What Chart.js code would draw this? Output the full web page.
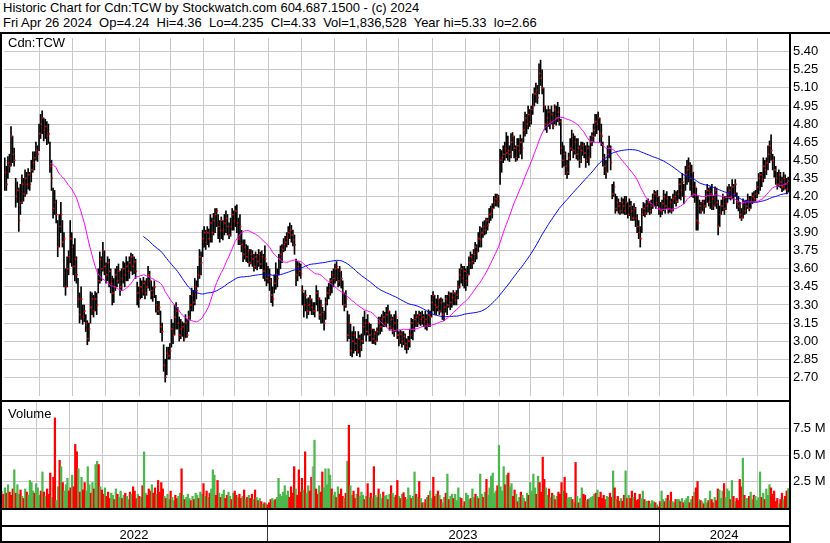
<!DOCTYPE html>
<html>
<head>
<meta charset="utf-8">
<script src="https://cdn.jsdelivr.net/npm/chart.js@4.4.0/dist/chart.umd.min.js"></script>
<style>
body { margin: 0; background: #fff; }
#wrap { position: relative; width: 830px; height: 543px; overflow: hidden; font-family: Arial, "Liberation Sans", sans-serif; font-size: 13px; color: #000; }
.hdr { position: absolute; left: 3px; white-space: pre; line-height: 15px; }
.bar { position: absolute; background: #000; }
.lbl { position: absolute; left: 8px; line-height: 15px; }
canvas { position: absolute; left: 0; }
</style>
</head>
<body>
<div id="wrap">
  <div class="hdr" style="top:0">Historic Chart for Cdn:TCW by Stockwatch.com 604.687.1500 - (c) 2024</div>
  <div class="hdr" style="top:15px">Fri Apr 26 2024  Op=4.24  Hi=4.36  Lo=4.235  Cl=4.33  Vol=1,836,528  Year hi=5.33  lo=2.66</div>
  <canvas id="priceChart" width="830" height="366" style="top:34px"></canvas>
  <canvas id="volumeChart" width="830" height="141" style="top:402px"></canvas>
  <div class="lbl" style="top:35px">Cdn:TCW</div>
  <div class="lbl" style="top:406px">Volume</div>
  <!-- khung -->
  <div class="bar" style="left:0;top:32px;width:830px;height:2px"></div>
  <div class="bar" style="left:0;top:32px;width:2px;height:511px"></div>
  <div class="bar" style="left:789px;top:32px;width:2px;height:511px"></div>
  <div class="bar" style="left:0;top:400px;width:791px;height:2px"></div>
  <div class="bar" style="left:0;top:508px;width:791px;height:2px"></div>
  <div class="bar" style="left:0;top:525px;width:791px;height:2px"></div>
  <div class="bar" style="left:0;top:541px;width:791px;height:2px"></div>
</div>
<script>
// Daily bars, Apr 26 2022 -> Apr 26 2024 (one value per trading day)
const highs = [
 4.52,4.45,4.53,4.55,4.78,4.70,4.60,4.35,4.32,4.27, 4.30,4.38,4.35,4.42,4.40,4.43,4.40,4.50,4.57,4.57,
 4.65,4.62,4.80,4.88,4.91,4.85,4.84,4.82,4.80,4.65, 4.50,4.27,4.25,4.17,4.00,4.05,4.15,4.00,3.90,3.60,
 3.70,3.75,4.00,3.90,3.80,3.85,3.70,3.52,3.40,3.45, 3.30,3.30,3.22,3.17,3.15,3.41,3.40,3.38,3.41,3.40,
 3.60,3.74,3.70,3.82,3.75,3.65,3.70,3.68,3.60,3.54, 3.52,3.60,3.62,3.64,3.58,3.60,3.66,3.65,3.70,3.66,
 3.70,3.73,3.72,3.70,3.68,3.49,3.45,3.52,3.50,3.53, 3.50,3.52,3.62,3.58,3.50,3.45,3.50,3.38,3.33,3.33,
 3.25,3.15,2.97,2.85,2.95,2.95,2.98,3.18,3.15,3.30, 3.32,3.28,3.20,3.18,3.16,3.15,3.22,3.18,3.25,3.38,
 3.44,3.42,3.52,3.50,3.62,3.76,3.74,3.92,3.95,3.92, 3.95,3.93,4.05,4.02,4.06,4.10,4.10,4.05,4.00,4.03,
 4.00,4.05,4.08,4.05,3.98,4.02,4.10,4.08,4.12,4.13, 4.02,4.05,3.92,3.84,3.84,3.80,3.79,3.76,3.76,3.75,
 3.72,3.74,3.72,3.76,3.74,3.75,3.72,3.79,3.65,3.62, 3.60,3.52,3.45,3.55,3.65,3.60,3.72,3.79,3.80,3.85,
 3.87,3.90,3.95,3.98,3.96,3.92,3.88,3.68,3.66,3.65, 3.64,3.46,3.40,3.42,3.35,3.36,3.38,3.35,3.32,3.32,
 3.46,3.42,3.36,3.34,3.28,3.25,3.36,3.45,3.48,3.52, 3.58,3.60,3.64,3.66,3.60,3.62,3.58,3.50,3.40,3.42,
 3.25,3.22,3.14,3.08,3.12,3.08,3.02,3.08,3.05,3.06, 3.20,3.25,3.18,3.22,3.15,3.14,3.10,3.10,3.08,3.11,
 3.20,3.20,3.22,3.25,3.24,3.28,3.30,3.25,3.22,3.20, 3.22,3.25,3.18,3.08,3.09,3.08,3.08,3.06,3.02,3.04,
 3.10,3.19,3.18,3.22,3.25,3.22,3.25,3.24,3.25,3.22, 3.25,3.22,3.26,3.25,3.38,3.41,3.38,3.35,3.38,3.35,
 3.36,3.35,3.32,3.38,3.38,3.41,3.40,3.40,3.42,3.40, 3.42,3.50,3.60,3.64,3.62,3.62,3.60,3.62,3.70,3.74,
 3.72,3.76,3.82,3.80,3.90,3.95,3.94,3.99,4.00,4.02, 4.02,4.10,4.12,4.14,4.20,4.22,4.22,4.21,4.59,4.58,
 4.62,4.65,4.73,4.70,4.62,4.72,4.73,4.70,4.62,4.68, 4.68,4.71,4.68,4.82,4.90,4.88,4.95,4.92,4.95,5.05,
 5.10,5.14,5.12,5.30,5.33,5.25,5.10,4.95,4.92,4.95, 4.92,4.95,4.90,4.96,4.95,4.98,4.94,4.84,4.65,4.62,
 4.57,4.50,4.56,4.68,4.75,4.72,4.70,4.68,4.68,4.62, 4.65,4.65,4.64,4.62,4.65,4.62,4.70,4.73,4.80,4.88,
 4.88,4.90,4.85,4.80,4.65,4.55,4.50,4.62,4.70,4.62, 4.30,4.32,4.22,4.20,4.18,4.15,4.19,4.18,4.20,4.20,
 4.15,4.18,4.16,4.12,4.14,4.11,4.05,4.00,3.95,4.10, 4.15,4.14,4.17,4.18,4.16,4.17,4.22,4.25,4.24,4.25,
 4.20,4.15,4.17,4.25,4.22,4.24,4.20,4.20,4.18,4.22, 4.25,4.24,4.25,4.35,4.35,4.39,4.30,4.45,4.50,4.52,
 4.48,4.46,4.40,4.32,4.27,4.20,4.17,4.15,4.17,4.17, 4.25,4.30,4.27,4.28,4.30,4.20,4.28,4.27,4.17,4.12,
 4.17,4.22,4.20,4.20,4.28,4.30,4.28,4.34,4.30,4.34, 4.23,4.20,4.15,4.10,4.18,4.16,4.17,4.22,4.20,4.20,
 4.23,4.24,4.25,4.32,4.39,4.40,4.40,4.52,4.50,4.52, 4.62,4.66,4.71,4.55,4.53,4.45,4.40,4.42,4.40,4.36,
 4.40,4.38,4.35,4.36
];
const lows = [
 4.25,4.25,4.35,4.40,4.45,4.48,4.45,4.11,4.15,3.91, 4.05,4.14,4.16,4.20,4.22,4.26,4.25,4.32,4.40,4.42,
 4.50,4.49,4.58,4.68,4.72,4.66,4.68,4.63,4.64,4.40, 4.25,4.02,4.05,3.98,3.70,3.78,3.90,3.78,3.45,3.38,
 3.45,3.55,3.65,3.62,3.55,3.50,3.48,3.28,3.15,3.18, 3.14,3.16,3.08,2.97,3.00,3.15,3.22,3.20,3.25,3.22,
 3.40,3.48,3.50,3.58,3.55,3.48,3.50,3.45,3.40,3.30, 3.32,3.42,3.45,3.48,3.38,3.42,3.48,3.45,3.50,3.50,
 3.52,3.58,3.55,3.56,3.52,3.30,3.28,3.35,3.36,3.38, 3.35,3.38,3.44,3.42,3.35,3.33,3.36,3.24,3.22,3.22,
 3.07,3.00,2.75,2.66,2.72,2.85,2.85,2.95,2.98,3.05, 3.10,3.10,3.00,3.02,3.04,3.00,3.03,3.03,3.08,3.18,
 3.25,3.25,3.30,3.35,3.45,3.52,3.55,3.70,3.78,3.76, 3.80,3.78,3.82,3.82,3.88,3.90,3.95,3.85,3.82,3.85,
 3.84,3.88,3.90,3.88,3.85,3.87,3.92,3.92,3.95,3.90, 3.80,3.80,3.74,3.66,3.68,3.66,3.65,3.62,3.64,3.62,
 3.58,3.60,3.59,3.62,3.60,3.60,3.52,3.50,3.46,3.48, 3.42,3.32,3.29,3.40,3.43,3.45,3.55,3.60,3.65,3.74,
 3.75,3.78,3.80,3.85,3.82,3.79,3.72,3.46,3.50,3.54, 3.52,3.30,3.20,3.25,3.19,3.22,3.25,3.22,3.22,3.20,
 3.30,3.25,3.18,3.15,3.15,3.09,3.18,3.30,3.35,3.38, 3.40,3.45,3.48,3.50,3.45,3.46,3.44,3.30,3.25,3.28,
 3.00,3.02,2.88,2.87,2.90,2.92,2.88,2.90,2.87,2.92, 2.98,3.05,3.00,3.05,3.00,3.00,2.98,2.98,2.97,3.00,
 3.05,3.06,3.08,3.12,3.12,3.12,3.15,3.09,3.10,3.06, 3.04,3.08,3.02,2.96,2.98,2.95,2.97,2.93,2.90,2.93,
 2.95,3.02,3.01,3.08,3.12,3.12,3.14,3.13,3.14,3.12, 3.10,3.09,3.12,3.12,3.20,3.25,3.22,3.22,3.25,3.22,
 3.24,3.18,3.17,3.24,3.22,3.28,3.26,3.28,3.30,3.30, 3.30,3.35,3.44,3.48,3.46,3.44,3.42,3.46,3.55,3.60,
 3.60,3.64,3.66,3.68,3.74,3.78,3.78,3.86,3.88,3.89, 3.92,3.98,4.00,4.02,4.10,4.12,4.12,4.11,4.30,4.40,
 4.48,4.50,4.52,4.50,4.49,4.52,4.58,4.52,4.49,4.50, 4.52,4.55,4.51,4.65,4.70,4.72,4.76,4.78,4.80,4.88,
 4.95,4.98,4.97,5.05,5.12,5.05,4.90,4.75,4.73,4.78, 4.76,4.80,4.76,4.80,4.79,4.82,4.79,4.55,4.44,4.45,
 4.38,4.35,4.38,4.50,4.58,4.52,4.55,4.51,4.50,4.44, 4.48,4.54,4.52,4.44,4.48,4.46,4.52,4.62,4.65,4.70,
 4.72,4.75,4.65,4.62,4.45,4.38,4.35,4.40,4.52,4.42, 4.18,4.20,4.06,4.08,4.06,4.05,4.06,4.06,4.05,4.05,
 4.02,4.04,4.00,4.00,4.00,3.95,3.90,3.85,3.78,3.90, 4.04,4.03,4.05,4.07,4.05,4.06,4.10,4.12,4.10,4.12,
 4.05,4.03,4.05,4.08,4.06,4.10,4.06,4.07,4.06,4.08, 4.14,4.12,4.15,4.18,4.17,4.20,4.14,4.25,4.30,4.32,
 4.25,4.20,4.19,4.15,3.92,3.92,4.06,4.06,4.08,4.06, 4.11,4.15,4.12,4.10,4.09,4.09,4.12,4.10,3.88,3.95,
 4.05,4.08,4.05,4.09,4.15,4.18,4.17,4.18,4.14,4.20, 4.10,4.08,4.02,4.00,4.02,4.05,4.06,4.10,4.08,4.10,
 4.14,4.15,4.16,4.19,4.22,4.25,4.28,4.32,4.35,4.38, 4.42,4.48,4.50,4.42,4.36,4.30,4.26,4.28,4.27,4.24,
 4.25,4.26,4.22,4.235
];
const closes = [
 4.40,4.30,4.48,4.45,4.70,4.55,4.50,4.20,4.25,4.00, 4.15,4.30,4.22,4.35,4.30,4.38,4.30,4.42,4.48,4.52,
 4.58,4.55,4.72,4.80,4.85,4.75,4.78,4.70,4.72,4.45, 4.35,4.10,4.15,4.05,3.78,3.95,4.05,3.82,3.85,3.45,
 3.60,3.70,3.85,3.78,3.62,3.68,3.55,3.35,3.22,3.35, 3.20,3.25,3.15,3.02,3.10,3.28,3.35,3.25,3.35,3.30,
 3.50,3.68,3.60,3.75,3.62,3.55,3.65,3.58,3.48,3.40, 3.45,3.55,3.50,3.58,3.45,3.52,3.60,3.55,3.62,3.58,
 3.65,3.70,3.62,3.66,3.58,3.40,3.35,3.45,3.42,3.48, 3.40,3.45,3.55,3.50,3.42,3.38,3.45,3.30,3.25,3.28,
 3.12,3.08,2.80,2.70,2.90,2.88,2.92,3.10,3.05,3.20, 3.25,3.15,3.05,3.10,3.12,3.02,3.15,3.05,3.20,3.30,
 3.38,3.32,3.45,3.42,3.55,3.70,3.65,3.85,3.90,3.82, 3.90,3.85,3.98,3.90,4.00,4.05,4.08,3.95,3.92,4.00,
 3.92,3.98,4.02,3.95,3.88,3.95,4.05,4.00,4.08,3.98, 3.85,3.95,3.80,3.72,3.78,3.70,3.75,3.65,3.72,3.68,
 3.62,3.70,3.66,3.72,3.64,3.70,3.58,3.68,3.52,3.55, 3.50,3.38,3.35,3.48,3.55,3.52,3.68,3.72,3.76,3.80,
 3.82,3.85,3.90,3.92,3.88,3.84,3.80,3.55,3.62,3.58, 3.56,3.42,3.30,3.38,3.25,3.30,3.35,3.28,3.25,3.25,
 3.40,3.35,3.22,3.30,3.24,3.15,3.32,3.40,3.42,3.50, 3.55,3.52,3.60,3.62,3.50,3.58,3.52,3.40,3.30,3.35,
 3.05,3.15,2.92,3.00,3.05,2.98,2.92,3.02,2.95,3.00, 3.12,3.15,3.08,3.15,3.05,3.10,3.02,3.06,3.00,3.08,
 3.15,3.12,3.18,3.20,3.15,3.22,3.25,3.12,3.18,3.10, 3.15,3.20,3.05,3.02,3.06,3.00,3.04,2.98,2.95,3.00,
 3.05,3.15,3.10,3.18,3.20,3.15,3.22,3.18,3.20,3.16, 3.18,3.14,3.22,3.20,3.32,3.38,3.30,3.28,3.35,3.25,
 3.32,3.22,3.28,3.35,3.30,3.38,3.32,3.36,3.40,3.34, 3.38,3.45,3.55,3.60,3.52,3.58,3.50,3.55,3.65,3.70,
 3.66,3.72,3.78,3.74,3.85,3.84,3.90,3.95,3.92,4.00, 3.96,4.05,4.06,4.10,4.15,4.18,4.20,4.16,4.50,4.52,
 4.55,4.60,4.56,4.58,4.55,4.65,4.70,4.60,4.52,4.62, 4.58,4.65,4.60,4.75,4.85,4.80,4.88,4.82,4.92,4.95,
 5.05,5.08,5.02,5.22,5.18,5.10,4.95,4.80,4.85,4.90, 4.82,4.88,4.78,4.92,4.85,4.90,4.82,4.60,4.50,4.55,
 4.45,4.40,4.52,4.60,4.70,4.58,4.65,4.55,4.60,4.50, 4.58,4.62,4.56,4.50,4.60,4.52,4.65,4.70,4.75,4.82,
 4.80,4.85,4.72,4.70,4.52,4.45,4.40,4.55,4.60,4.48, 4.22,4.28,4.10,4.15,4.12,4.08,4.15,4.12,4.08,4.15,
 4.05,4.12,4.08,4.02,4.10,4.02,3.95,3.90,3.85,4.05, 4.10,4.06,4.12,4.15,4.08,4.12,4.18,4.22,4.15,4.20,
 4.10,4.08,4.14,4.20,4.12,4.18,4.10,4.15,4.08,4.18, 4.20,4.16,4.22,4.30,4.25,4.32,4.20,4.38,4.42,4.45,
 4.35,4.40,4.22,4.28,4.00,3.98,4.12,4.08,4.15,4.12, 4.20,4.25,4.15,4.22,4.18,4.12,4.25,4.15,3.95,4.05,
 4.12,4.18,4.10,4.14,4.22,4.25,4.20,4.28,4.22,4.30, 4.15,4.12,4.05,4.02,4.15,4.08,4.12,4.18,4.10,4.15,
 4.20,4.18,4.22,4.28,4.35,4.38,4.34,4.45,4.42,4.48, 4.55,4.62,4.58,4.50,4.42,4.35,4.30,4.38,4.32,4.28,
 4.35,4.30,4.26,4.33
];
// Volume in millions of shares
const volumes = [
 1.6,1.3,1.9,1.4,2.2,1.5,1.2,1.8,3.6,1.4, 2.2,1.3,1.7,1.1,0.9,1.8,1.5,1.2,2.6,2.4,
 1.6,1.4,2.3,1.9,1.2,1.6,3.4,1.5,1.1,1.8, 1.3,3.3,1.0,2.9,8.5,0.7,2.0,4.5,3.9,2.4,
 1.6,2.2,2.8,1.6,1.9,3.1,2.0,6.0,5.3,3.7, 1.5,2.9,1.7,2.4,1.6,3.9,2.2,1.4,2.4,1.8,
 4.1,4.4,4.1,2.0,1.7,1.3,1.9,1.1,1.5,0.9, 1.4,1.2,0.8,1.8,1.3,1.0,1.6,0.9,1.2,1.4,
 1.1,0.8,1.5,1.3,2.0,1.6,0.9,1.3,1.1,1.0, 2.1,5.3,1.4,1.2,1.8,1.6,2.2,1.4,1.9,1.3,
 2.6,1.5,2.4,1.8,1.1,0.9,1.3,0.8,1.6,1.0, 0.7,1.2,0.9,1.1,1.4,3.7,1.2,0.8,1.0,1.3,
 0.9,0.7,1.1,0.8,1.4,1.2,0.9,1.5,1.3,2.3, 1.1,1.6,1.0,1.4,1.8,3.6,3.1,1.2,2.6,1.4,
 1.0,1.3,1.7,0.9,1.2,1.5,1.1,0.8,1.4,1.6, 1.2,1.0,1.3,0.9,1.1,1.7,0.8,1.0,1.2,0.9,
 1.3,0.8,1.7,1.0,0.7,0.9,0.6,0.35,0.5,0.4, 0.3,0.5,0.8,0.9,0.7,0.8,1.0,2.8,1.3,1.1,
 1.5,2.1,1.2,1.6,1.0,2.0,1.4,3.9,1.8,1.2, 3.6,1.5,2.8,1.7,5.3,1.4,2.1,1.6,2.9,3.9,
 6.4,1.8,1.3,2.1,1.5,3.4,1.9,3.7,2.2,3.7, 3.1,1.8,1.2,1.5,1.0,2.0,1.3,1.8,1.1,0.9,
 1.4,4.4,7.8,2.1,1.2,1.6,0.9,1.3,1.9,1.1, 1.5,1.2,0.8,1.1,2.3,1.0,1.4,0.9,3.9,1.2,
 1.0,1.8,1.3,0.9,1.5,1.1,1.2,0.8,1.3,2.1, 1.4,1.0,1.2,2.6,1.1,0.9,1.3,1.45,1.0,0.8,
 1.9,1.2,0.9,1.1,3.4,1.3,1.0,2.5,0.9,0.5, 0.5,0.8,1.0,1.2,1.6,0.9,2.9,1.1,1.3,1.6,
 1.2,0.8,0.5,1.0,1.4,3.2,0.8,1.1,1.3,0.9, 1.3,0.7,1.9,1.0,0.9,0.2,0.6,1.4,1.2,0.8,
 0.9,1.8,1.0,1.3,1.1,0.9,3.2,1.3,1.0,1.5, 2.7,1.2,1.9,3.0,3.3,1.4,1.6,2.1,5.9,2.0,
 1.6,3.9,2.2,3.1,3.3,2.0,2.3,1.1,1.7,1.3, 0.6,1.0,1.5,1.2,0.9,0.6,1.4,1.2,2.4,1.6,
 3.2,1.9,1.3,3.0,2.4,1.5,4.8,2.7,1.9,1.2, 1.8,1.0,1.4,1.2,0.8,1.1,1.5,1.3,2.4,1.6,
 2.9,1.4,0.9,1.0,1.0,0.8,0.5,4.3,1.1,0.5, 0.9,1.9,1.3,1.2,0.7,0.8,0.9,1.0,1.1,1.3,
 1.4,1.7,1.0,1.5,0.9,1.2,0.8,1.1,1.0,1.4, 1.0,3.5,1.9,0.8,1.1,0.65,0.9,0.65,1.2,3.5,
 0.9,1.2,0.9,1.6,1.0,1.4,0.7,0.8,1.3,0.9, 1.6,0.8,0.65,0.65,0.65,0.4,0.7,0.6,0.5,0.3,
 0.1,0.6,1.6,0.8,0.6,0.9,1.2,0.7,1.5,0.6, 0.5,0.8,0.8,0.8,0.6,0.9,0.5,0.7,0.9,1.1,
 0.5,0.8,1.1,1.5,1.9,2.5,0.8,0.7,0.6,0.4, 0.9,0.5,0.7,1.6,0.8,0.5,1.0,0.7,1.8,1.7,
 0.9,1.6,2.3,1.0,1.8,1.6,0.8,2.6,1.1,0.6, 0.9,0.7,2.7,2.0,4.7,1.2,0.9,0.9,1.1,1.5,
 0.8,1.2,1.1,0.7,0.97,3.4,1.0,1.4,0.8,1.8, 1.2,2.2,1.9,1.3,1.6,0.6,0.9,0.4,0.8,1.4,
 0.8,1.1,1.6,1.84
];

// Tick labels and time markers
const priceTicks = [5.40, 5.25, 5.10, 4.95, 4.80, 4.65, 4.50, 4.35, 4.20, 4.05, 3.90, 3.75, 3.60, 3.45, 3.30, 3.15, 3.00, 2.85, 2.70];
const volumeTicks = [2.5, 5.0, 7.5];
const monthStarts = [23, 44, 65, 87, 107, 128, 148, 170, 191, 212, 233, 253, 275, 296, 318, 338, 359, 381, 401, 421, 443, 464, 484];
const yearStarts = [0, 170, 421];
const yearLabels = ['2022', '2023', '2024'];

const GRID = '#c8c8c8';
const FONT = { family: 'Arial, "Liberation Sans", sans-serif', size: 13 };
const lastIndex = closes.length - 1;

// Đường trung bình động tính từ giá đóng cửa
function movingAverage(values, period) {
    return values.map((v, i) => {
        if (i < period - 1) return { x: i, y: null };
        let sum = 0;
        for (let k = i - period + 1; k <= i; k++) sum += values[k];
        return { x: i, y: sum / period };
    });
}

function xAxis() {
    return {
        type: 'linear',
        min: -0.5,
        max: lastIndex + 0.5,
        offset: false,
        grid: { color: GRID, drawTicks: false, offset: false },
        border: { display: false },
        ticks: { display: false },
        afterBuildTicks: scale => { scale.ticks = monthStarts.map(v => ({ value: v - 0.5 })); },
        afterFit: scale => { scale.height = 0; scale.paddingLeft = 0; scale.paddingRight = 0; }
    };
}

function yAxis(min, max, ticks, format) {
    return {
        position: 'right',
        min: min,
        max: max,
        grid: { color: GRID, drawTicks: false },
        border: { display: false },
        ticks: { color: '#000', font: FONT, padding: 4, callback: format },
        afterBuildTicks: scale => { scale.ticks = ticks.map(v => ({ value: v })); },
        afterFit: scale => { scale.width = 41; scale.paddingTop = 0; scale.paddingBottom = 0; }
    };
}

// Biểu đồ giá
new Chart(document.getElementById('priceChart'), {
    type: 'bar',
    data: {
        datasets: [
            {
                type: 'line', data: movingAverage(closes, 30),
                borderColor: '#ff00ff', borderWidth: 1, pointRadius: 0, order: 0
            },
            {
                type: 'line', data: movingAverage(closes, 90),
                borderColor: '#0000ff', borderWidth: 1, pointRadius: 0, order: 0
            },
            {
                type: 'line', data: closes.map((c, i) => ({ x: i + 0.45, y: c })),
                showLine: false, pointStyle: 'rect', pointRadius: 1.1,
                pointBackgroundColor: '#ff0000', pointBorderWidth: 0, order: 1
            },
            {
                type: 'bar', data: highs.map((h, i) => ({ x: i, y: [lows[i], h] })),
                backgroundColor: '#000', barThickness: 1.0, order: 2
            }
        ]
    },
    options: {
        responsive: false,
        animation: false,
        events: [],
        layout: { padding: { left: 1, right: 0, top: 0, bottom: 0 } },
        plugins: { legend: { display: false }, tooltip: { enabled: false } },
        scales: {
            x: xAxis(),
            y: yAxis(2.5452, 5.5135, priceTicks, v => v.toFixed(2))
        }
    }
});

// Vẽ dải năm bên dưới khối lượng
const yearBand = {
    id: 'yearBand',
    afterDraw(chart) {
        const ctx = chart.ctx;
        const xs = chart.scales.x;
        const area = chart.chartArea;
        const edges = yearStarts.map(s => xs.getPixelForValue(s - 0.5));
        edges[0] = area.left;
        edges.push(area.right);
        ctx.save();
        ctx.strokeStyle = '#333';
        ctx.lineWidth = 1;
        for (let k = 1; k < yearStarts.length; k++) {
            const px = Math.round(edges[k]) + 0.5;
            ctx.beginPath();
            ctx.moveTo(px, area.bottom);
            ctx.lineTo(px, area.bottom + 33);
            ctx.stroke();
        }
        ctx.fillStyle = '#000';
        ctx.font = '13px Arial, "Liberation Sans", sans-serif';
        ctx.textAlign = 'center';
        ctx.textBaseline = 'middle';
        yearLabels.forEach((label, k) => {
            ctx.fillText(label, (edges[k] + edges[k + 1]) / 2, area.bottom + 27);
        });
        ctx.restore();
    }
};

// Biểu đồ khối lượng
const volumeColors = closes.map((c, i) => {
    if (i === 0 || c === closes[i - 1]) return '#a8a8a8';
    return c > closes[i - 1] ? '#4cb84c' : '#ff0000';
});

new Chart(document.getElementById('volumeChart'), {
    type: 'bar',
    data: {
        datasets: [{
            data: volumes.map((v, i) => ({ x: i, y: v })),
            backgroundColor: volumeColors,
            barThickness: 1.6
        }]
    },
    options: {
        responsive: false,
        animation: false,
        events: [],
        layout: { padding: { left: 1, right: 0, top: 0, bottom: 35 } },
        plugins: { legend: { display: false }, tooltip: { enabled: false } },
        scales: {
            x: xAxis(),
            y: yAxis(0, 10, volumeTicks, v => v.toFixed(1) + ' M')
        }
    },
    plugins: [yearBand]
});
</script>
</body>
</html>
